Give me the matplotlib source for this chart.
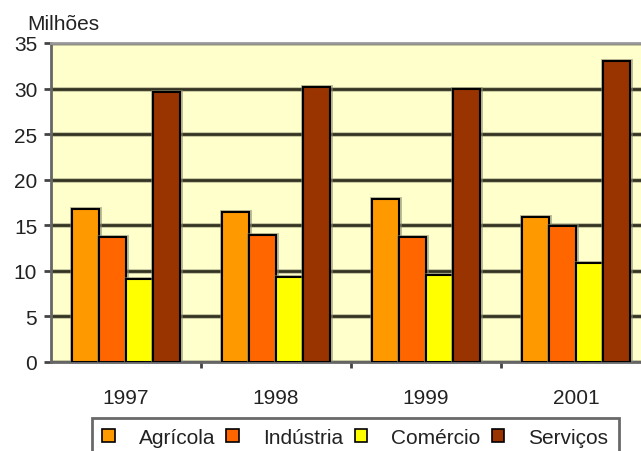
import matplotlib.pyplot as plt
import matplotlib.patheffects as pe
from matplotlib.patches import Patch
import numpy as np

plt.rcParams['font.family'] = ['Liberation Sans', 'DejaVu Sans']

years = ["1997", "1998", "1999", "2001"]
agricola = [16.8, 16.4, 17.9, 15.95]
industria = [13.75, 13.9, 13.75, 14.95]
comercio = [9.1, 9.3, 9.5, 10.9]
servicos = [29.6, 30.15, 30.0, 33.0]

series = [("Agrícola", agricola, "#FF9900"),
          ("Indústria", industria, "#FF6600"),
          ("Comércio", comercio, "#FFFF00"),
          ("Serviços", servicos, "#993300")]

fig = plt.figure(figsize=(6.41, 4.52), dpi=100)
ax = fig.add_axes([0.0796, 0.197, 0.936, 0.7058])
ax.set_facecolor("#FFFFCC")

x = np.arange(len(years))
w = 0.18
halo = [pe.Stroke(linewidth=3.5, foreground="#8a8a70", alpha=0.6), pe.Normal()]

for i, (name, vals, col) in enumerate(series):
    bars = ax.bar(x + (i - 1.5) * w, vals, width=w, color=col,
                  edgecolor="black", linewidth=1.5, zorder=3)
    for b in bars:
        b.set_path_effects(halo)

ax.set_ylim(0, 35)
ax.set_xlim(-0.5, 3.5)
ax.set_yticks(range(0, 36, 5))
ax.yaxis.grid(True, color="#333322", linewidth=2, zorder=1,
              path_effects=[pe.Stroke(linewidth=3.5, foreground="#8a8a70", alpha=0.5), pe.Normal()])
ax.set_axisbelow(True)

ax.set_xticks(x)
ax.set_xticklabels(years)
ax.set_xticks([0.5, 1.5, 2.5], minor=True)
ax.tick_params(axis="x", which="major", length=0, pad=19, labelsize=15, labelcolor="#222222")
ax.tick_params(axis="x", which="minor", length=4, width=2, color="#444444", direction="out")
ax.tick_params(axis="y", length=5, width=2, color="#444444", pad=5, labelsize=15, labelcolor="#222222")

for s in ["left", "bottom"]:
    ax.spines[s].set_color("#666666")
    ax.spines[s].set_linewidth(2)
ax.spines["top"].set_color("#999999")
ax.spines["top"].set_linewidth(2)
ax.spines["right"].set_visible(False)

fig.text(0.042, 0.945, "Milhões", fontsize=15, color="#222222", va="center", ha="left")

handles = [Patch(facecolor=c, edgecolor="black", linewidth=1.2) for _, _, c in series]
labels = [n for n, _, _ in series]
leg = fig.legend(handles, labels, ncol=4, loc="upper left",
                 bbox_to_anchor=(0.143, 0.074), fontsize=15,
                 handlelength=0.6, handleheight=0.6, handletextpad=1.15,
                 columnspacing=0.55, frameon=True, fancybox=False,
                 borderpad=0.5, borderaxespad=0)
leg.get_frame().set_edgecolor("#444444")
leg.get_frame().set_linewidth(2)
for t in leg.get_texts():
    t.set_color("#222222")

fig.savefig("out.png", dpi=100)
